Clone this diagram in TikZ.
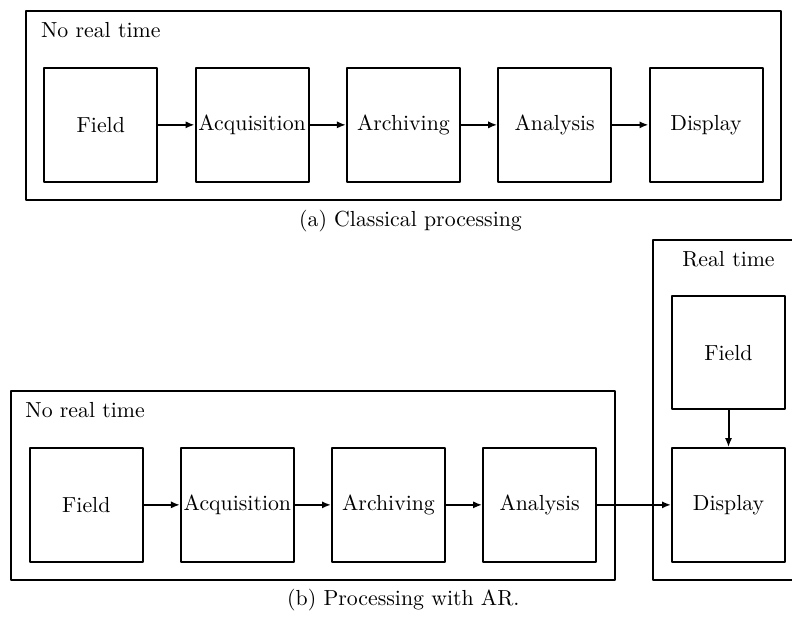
\documentclass[tikz,border=0pt]{standalone}
\usetikzlibrary{arrows.meta}
\begin{document}
\begin{tikzpicture}[x=0.5pt,y=-0.5pt,
  box/.style={draw,line width=1pt,line join=round,minimum width=56.5pt,minimum height=56.75pt,inner sep=0pt,font=\fontsize{10.9}{13}\selectfont},
  frame/.style={draw,line width=1pt,line join=round,inner sep=0pt},
  lbl/.style={inner sep=0pt,font=\fontsize{10.9}{13}\selectfont},
  arr/.style={line width=1pt,-{Latex[length=4.5pt,width=3.6pt]}}]
\useasboundingbox (0,0) rectangle (792,616);
\clip (0,0) rectangle (792,616);
% (a) classical processing
\node[frame,minimum width=377.75pt,minimum height=94.5pt] (fa) at (403.25,105.5) {};
\node[lbl,anchor=base west] (la) at (40.7,37) {No real time};
\node[box] (a1) at (100.8,124.85) {Field};
\node[box] (a2) at (252.1,124.85) {Acquisition};
\node[box] (a3) at (403.4,124.85) {Archiving};
\node[box] (a4) at (554.7,124.85) {Analysis};
\node[box] (a5) at (706,124.85) {Display};
\draw[arr] (a1) -- (a2);
\draw[arr] (a2) -- (a3);
\draw[arr] (a3) -- (a4);
\draw[arr] (a4) -- (a5);
\node[lbl,anchor=base] (ca) at (410.5,226.7) {(a) Classical processing};
% (b) processing with AR
\node[frame,minimum width=302.15pt,minimum height=94.5pt] (fb) at (313.15,485.5) {};
\node[lbl,anchor=base west] (lb) at (25,417.3) {No real time};
\node[frame,minimum width=75.5pt,minimum height=170pt] (fr) at (728.5,410) {};
\node[lbl,anchor=base] (lr) at (728.5,266) {Real time};
\node[box] (b1) at (86.3,504.85) {Field};
\node[box] (b2) at (237.4,504.85) {Acquisition};
\node[box] (b3) at (388.5,504.85) {Archiving};
\node[box] (b4) at (539.6,504.85) {Analysis};
\node[box] (b5) at (728.5,504.85) {Display};
\node[box] (r1) at (728.5,352.65) {Field};
\draw[arr] (b1) -- (b2);
\draw[arr] (b2) -- (b3);
\draw[arr] (b3) -- (b4);
\draw[arr] (b4) -- (b5);
\draw[arr] (r1) -- (b5);
\node[lbl,anchor=base] (cb) at (403.3,605) {(b) Processing with AR.};
\end{tikzpicture}
\end{document}
